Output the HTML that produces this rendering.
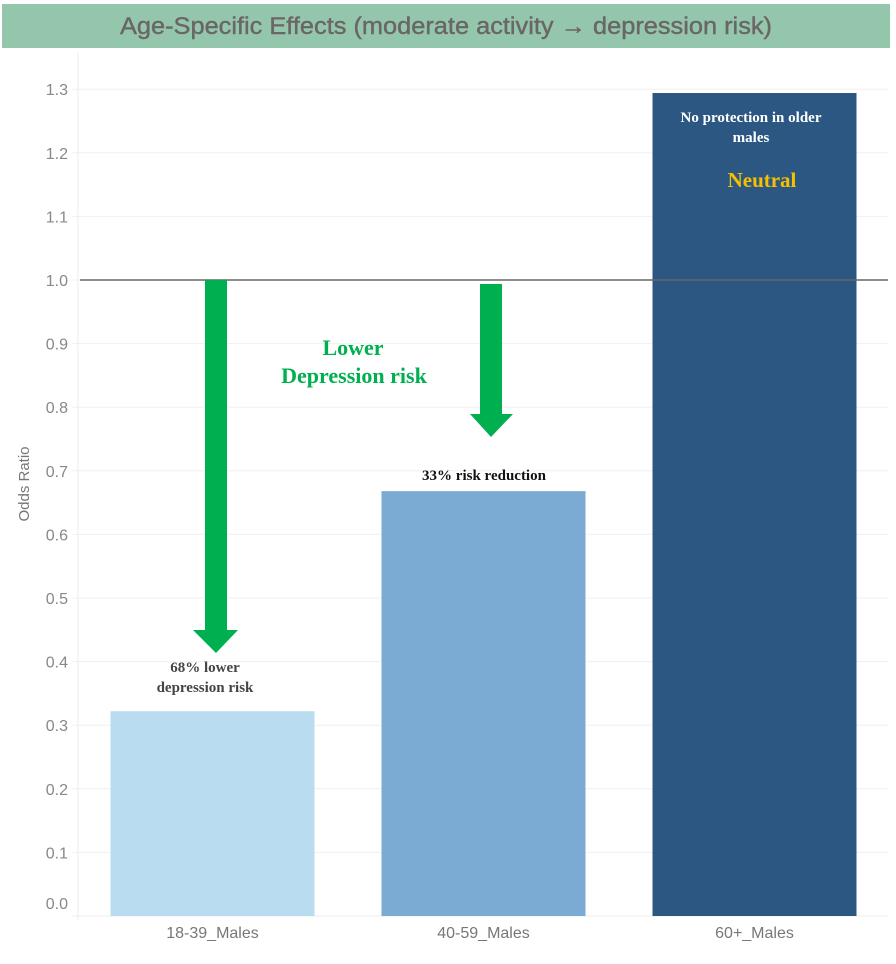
<!DOCTYPE html>
<html><head><meta charset="utf-8"><style>
body{margin:0;background:#fff;width:896px;height:959px;overflow:hidden;font-family:"Liberation Sans",sans-serif}
</style></head><body>
<svg width="896" height="959" xmlns="http://www.w3.org/2000/svg">
<rect x="2" y="4" width="888" height="44" fill="#93c6ab"/>
<text x="446" y="34" text-anchor="middle" font-size="24" fill="#6a6666" stroke="#6a6666" stroke-width="0.4" textLength="652" lengthAdjust="spacingAndGlyphs" font-family="Liberation Sans, DejaVu Sans, sans-serif">Age-Specific Effects (moderate activity → depression risk)</text>
<g id="grid"></g>
<line x1="78" y1="52" x2="78" y2="920" stroke="#eee"/>
<line x1="72" y1="916" x2="888" y2="916" stroke="#eee"/>
<text transform="translate(29,484) rotate(-90)" text-anchor="middle" font-size="15" fill="#777">Odds Ratio</text>
<g id="bars"></g>
<line x1="80" y1="280" x2="888" y2="280" stroke="#666" stroke-width="1.5"/>
<polygon points="205,280 227,280 227,630 238,630 216,653 193,630 205,630" fill="#00b050"/>
<polygon points="480,284 502,284 502,414 513,414 491,437 470,414 480,414" fill="#00b050"/>
<g font-family="Liberation Serif, serif" font-weight="bold">
<text x="353" y="355" text-anchor="middle" font-size="22" fill="#00b050">Lower</text>
<text x="354" y="383" text-anchor="middle" font-size="22" fill="#00b050">Depression risk</text>
<text x="205" y="672" text-anchor="middle" font-size="15" fill="#444">68% lower</text>
<text x="205" y="692" text-anchor="middle" font-size="15" fill="#444">depression risk</text>
<text x="484" y="480" text-anchor="middle" font-size="15" fill="#111">33% risk reduction</text>
<text x="751" y="122" text-anchor="middle" font-size="15" fill="#fff">No protection in older</text>
<text x="751" y="142" text-anchor="middle" font-size="15" fill="#fff">males</text>
<text x="762" y="187" text-anchor="middle" font-size="21" fill="#f5c000">Neutral</text>
</g>
</svg>
<script>
const categories=["18-39_Males","40-59_Males","60+_Males"];
const values=[0.322,0.668,1.294];
const ticks=[0,0.1,0.2,0.3,0.4,0.5,0.6,0.7,0.8,0.9,1.0,1.1,1.2,1.3];
const colors=["#badcf0","#7babd2","#2b5782"];
const ns="http://www.w3.org/2000/svg";
function y(v){return 916-v*636;}
function xc(i){return 212.5+i*271;}
const grid=document.getElementById('grid'),bars=document.getElementById('bars');
ticks.forEach(t=>{
 const l=document.createElementNS(ns,'line');
 l.setAttribute('x1',72);l.setAttribute('x2',888);l.setAttribute('y1',y(t));l.setAttribute('y2',y(t));
 l.setAttribute('stroke','#f0f0f0');
 
 
 grid.appendChild(l);
 const tx=document.createElementNS(ns,'text');
 tx.setAttribute('x',68);tx.setAttribute('y',Math.min(y(t),903)+6);
 tx.setAttribute('text-anchor','end');tx.setAttribute('font-size','16');tx.setAttribute('fill','#888');
 tx.textContent=t.toFixed(1);
 
 
 grid.appendChild(tx);
});
categories.forEach((c,i)=>{
 const r=document.createElementNS(ns,'rect');
 r.setAttribute('x',xc(i)-102);r.setAttribute('width',204);
 r.setAttribute('y',y(values[i]));r.setAttribute('height',916-y(values[i]));
 r.setAttribute('fill',colors[i]);
 
 
 bars.appendChild(r);
 const tx=document.createElementNS(ns,'text');
 tx.setAttribute('x',xc(i));tx.setAttribute('y',938);
 tx.setAttribute('text-anchor','middle');tx.setAttribute('font-size','16');tx.setAttribute('fill','#777');
 tx.textContent=c;
 
 
 bars.appendChild(tx);
});
</script>
</body></html>
